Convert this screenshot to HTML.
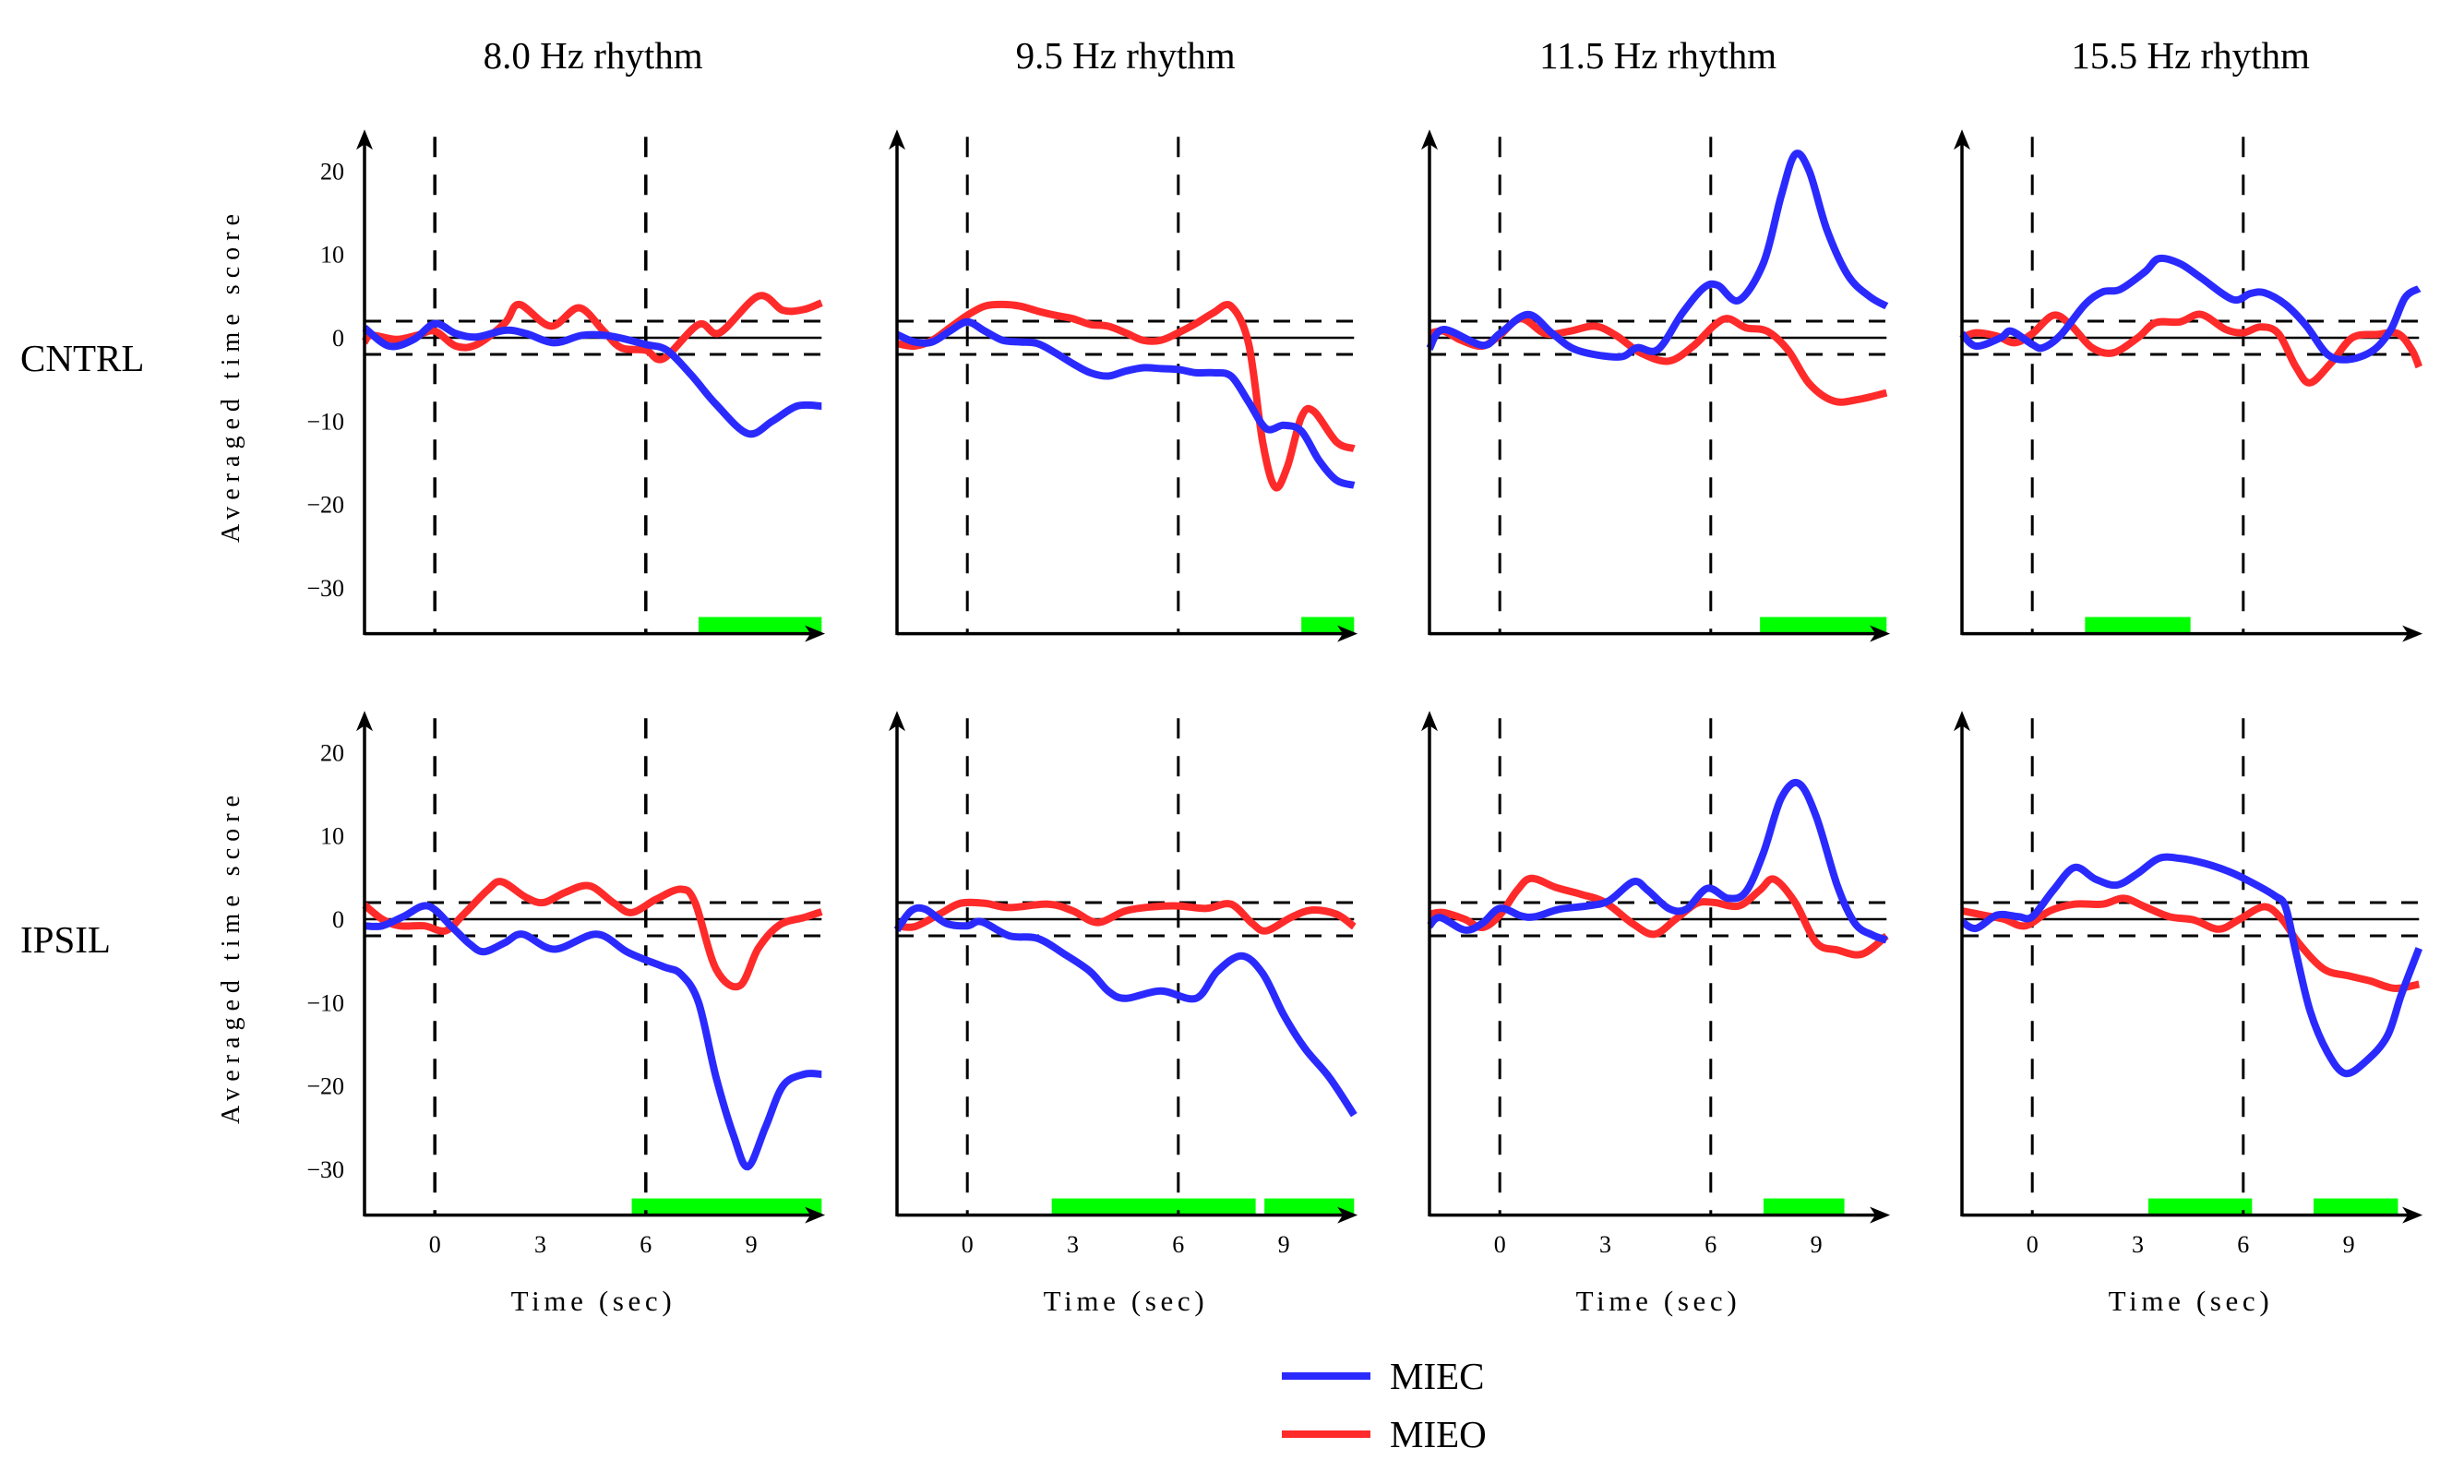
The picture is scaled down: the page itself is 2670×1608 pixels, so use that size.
<!DOCTYPE html>
<html><head><meta charset="utf-8"><style>
html,body{margin:0;padding:0;background:#fff;}
svg{display:block;}
text{font-family:"Liberation Serif",serif;fill:#000;}
</style></head><body>
<svg id="chart" width="2670" height="1608" viewBox="0 0 2670 1608" xmlns="http://www.w3.org/2000/svg"></svg>
<script>
const rhythms = ["8.0 Hz rhythm","9.5 Hz rhythm","11.5 Hz rhythm","15.5 Hz rhythm"];
const rowNames = ["CNTRL","IPSIL"];
const yTicks = [20,10,0,-10,-20,-30];
const yTickLabels = ["20","10","0","\u221210","\u221220","\u221230"];
const xTicks = [0,3,6,9];
const threshold = 2;
const eventTimes = [0,6];

// MIEC (blue) series, [time, score]
const miecC0 = [[-2,1.2],[-1.3,-1],[-0.6,-0.2],[0,1.7],[0.6,0.5],[1.2,0.1],[2,0.9],[2.6,0.5],[3.4,-0.6],[4.2,0.3],[5,0.2],[6,-0.8],[6.6,-1.5],[7.3,-4.5],[8,-8],[8.9,-11.5],[9.6,-10],[10.3,-8.2],[11,-8.2]];
const miecC1 = [[-2,0.4],[-1.5,-0.5],[-1,-0.5],[-0.5,0.8],[0,1.9],[0.5,0.8],[1,-0.3],[1.5,-0.5],[2,-0.7],[2.5,-1.8],[3,-3.1],[3.5,-4.2],[4,-4.6],[4.5,-4],[5,-3.6],[5.5,-3.7],[6,-3.8],[6.5,-4.2],[7,-4.2],[7.5,-4.6],[8,-7.7],[8.5,-10.9],[9,-10.5],[9.5,-11.2],[10,-14.7],[10.5,-17.1],[11,-17.7]];
const miecC2 = [[-2,-1.3],[-1.6,1],[-0.5,-0.9],[0,0.5],[0.8,2.8],[1.5,0.5],[2.2,-1.5],[3.4,-2.3],[3.9,-1.2],[4.5,-1.4],[5.2,3],[5.8,6],[6.2,6.3],[6.8,4.5],[7.5,9],[8,17],[8.4,22],[8.8,20],[9.3,13],[9.9,7.5],[10.5,5],[11,3.8]];
const miecC3 = [[-2,0.5],[-1.6,-1],[-0.9,0],[-0.6,0.8],[0,-0.8],[0.3,-1.2],[0.8,0.3],[1.5,4],[2,5.5],[2.5,5.8],[3.2,7.9],[3.6,9.5],[4.2,8.9],[4.8,7.2],[5.7,4.6],[6.2,5.3],[6.6,5.4],[7.2,4],[7.8,1.4],[8.4,-2],[9,-2.6],[9.7,-1.5],[10.2,1],[10.6,4.8],[11,5.9]];
const miecI0 = [[-2,-0.8],[-1.5,-0.8],[-0.9,0.3],[-0.2,1.6],[0.5,-1],[1,-3],[1.4,-3.9],[2,-2.8],[2.5,-1.8],[3.4,-3.6],[4.6,-1.8],[5.5,-4],[6.5,-5.7],[7,-6.6],[7.5,-10],[8,-19],[8.5,-26],[8.9,-29.7],[9.4,-25],[9.9,-20],[10.5,-18.6],[11,-18.6]];
const miecI1 = [[-2,-1.3],[-1.6,1],[-1.2,1.2],[-0.6,-0.5],[0,-0.8],[0.4,-0.3],[1.2,-2],[2,-2.3],[2.8,-4.3],[3.5,-6.3],[4,-8.6],[4.5,-9.5],[5.5,-8.6],[6.5,-9.5],[7.1,-6.3],[7.8,-4.4],[8.4,-6.5],[9,-11.5],[9.6,-15.5],[10.3,-19],[11,-23.5]];
const miecI2 = [[-2,-0.8],[-1.7,0.2],[-1,-1.3],[-0.5,-0.5],[0,1.3],[0.6,0.4],[1,0.3],[1.7,1.2],[2.5,1.6],[3.1,2.2],[3.8,4.5],[4.2,3.5],[4.8,1.3],[5.3,1.2],[5.9,3.7],[6.5,2.5],[7,3.3],[7.5,8],[8,14.5],[8.5,16.3],[9,12.3],[9.6,4],[10.1,-0.5],[10.6,-1.9],[11,-2.5]];
const miecI3 = [[-2,-0.3],[-1.6,-1.1],[-1,0.5],[-0.4,0.3],[0,0.3],[0.6,3.5],[1.2,6.2],[1.8,4.8],[2.4,4.1],[3,5.5],[3.6,7.3],[4.2,7.3],[4.9,6.7],[5.6,5.7],[6.2,4.5],[6.9,2.8],[7.2,1.5],[7.5,-4],[7.9,-11],[8.4,-16],[8.9,-18.5],[9.5,-17],[10.1,-14],[10.5,-9],[11,-3.5]];

// MIEO (red) series, [time, score]
const mieoC0 = [[-2,-0.5],[-1.8,0.3],[-1.1,-0.2],[-0.5,0.3],[0,0.8],[0.6,-1],[1.2,-0.8],[2,1.8],[2.4,4],[3.3,1.4],[4.1,3.6],[4.8,0.8],[5.3,-1.2],[6,-1.5],[6.5,-2.5],[7.5,1.6],[8.1,0.6],[9.2,5],[9.9,3.3],[10.5,3.4],[11,4.2]];
const mieoC1 = [[-2,-0.7],[-1.5,-1],[-1,-0.3],[-0.5,1.2],[0,2.7],[0.5,3.8],[1,4],[1.5,3.8],[2,3.2],[2.5,2.7],[3,2.3],[3.5,1.6],[4,1.4],[4.5,0.6],[5,-0.3],[5.5,-0.3],[6,0.6],[6.5,1.7],[7,3],[7.5,3.8],[8,-0.7],[8.4,-12.5],[8.75,-17.9],[9.1,-15.5],[9.5,-9.5],[9.85,-8.8],[10.5,-12.5],[11,-13.3]];
const mieoC2 = [[-2,0.5],[-1.6,0.8],[-1.1,-0.3],[-0.5,-1],[0,0.3],[0.6,2.3],[1.3,0.5],[2,0.8],[2.7,1.4],[3.3,0.3],[4,-1.8],[4.8,-2.8],[5.5,-1],[6.1,1.5],[6.5,2.3],[7,1.2],[7.6,0.8],[8.2,-1.5],[8.8,-5.5],[9.5,-7.6],[10.2,-7.4],[11,-6.6]];
const mieoC3 = [[-2,0],[-1.6,0.6],[-1,0.2],[-0.5,-0.6],[0,0.5],[0.6,2.7],[1.1,1.5],[1.7,-1.2],[2.3,-1.8],[3,0],[3.5,1.8],[4.2,1.9],[4.8,2.8],[5.5,1],[6,0.6],[6.5,1.3],[7,0.5],[7.5,-3.5],[7.9,-5.4],[8.5,-3],[9.1,0],[9.8,0.4],[10.4,0.5],[10.8,-1.5],[11,-3.5]];
const mieoI0 = [[-2,1.7],[-1.5,0],[-1,-0.8],[-0.3,-0.8],[0.3,-1.4],[0.8,0.5],[1.5,3.5],[1.9,4.5],[2.6,2.6],[3.1,2],[3.7,3.2],[4.4,4],[5.1,1.9],[5.6,0.8],[6.3,2.4],[7,3.6],[7.4,2],[8,-6],[8.67,-8],[9.2,-3.5],[9.8,-0.7],[10.5,0.2],[11,0.9]];
const mieoI1 = [[-2,-0.8],[-1.5,-0.9],[-0.8,0.6],[-0.2,1.9],[0.5,1.9],[1.2,1.4],[2.3,1.8],[3,1],[3.7,-0.4],[4.5,1],[5.3,1.5],[6,1.6],[6.8,1.3],[7.5,1.8],[8.1,-0.5],[8.5,-1.4],[9.2,0.2],[9.8,1.1],[10.5,0.6],[11,-0.9]];
const mieoI2 = [[-2,0.6],[-1.6,0.8],[-1,0],[-0.5,-1],[0,0.5],[0.5,3.5],[0.9,4.9],[1.6,3.8],[2.3,3],[3,2],[3.8,-0.6],[4.4,-1.8],[5,0],[5.6,1.9],[6.1,2],[6.8,1.6],[7.4,3.5],[7.8,4.8],[8.4,2],[9,-2.8],[9.6,-3.7],[10.3,-4.2],[11,-2]];
const mieoI3 = [[-2,1],[-1.4,0.5],[-0.8,0],[-0.2,-0.8],[0.5,1],[1.2,1.8],[2,1.8],[2.6,2.5],[3.2,1.5],[3.9,0.3],[4.6,-0.1],[5.3,-1.2],[5.9,0],[6.6,1.5],[7.1,0],[7.6,-3],[8.3,-6],[9,-6.8],[9.6,-7.4],[10.3,-8.3],[11,-7.8]];

// significance intervals [start, end] in seconds
const sigC0 = [[7.5,11]];
const sigC1 = [[9.5,11]];
const sigC2 = [[7.4,11]];
const sigC3 = [[1.5,4.5]];
const sigI0 = [[5.6,11]];
const sigI1 = [[2.4,8.2],[8.45,11]];
const sigI2 = [[7.5,9.8]];
const sigI3 = [[3.3,6.25],[8.0,10.4]];

const miec = [[miecC0,miecC1,miecC2,miecC3],[miecI0,miecI1,miecI2,miecI3]];
const mieo = [[mieoC0,mieoC1,mieoC2,mieoC3],[mieoI0,mieoI1,mieoI2,mieoI3]];
const sig = [[sigC0,sigC1,sigC2,sigC3],[sigI0,sigI1,sigI2,sigI3]];

const NS = "http://www.w3.org/2000/svg";
const svg = document.getElementById("chart");
function mk(tag, attrs, parent){
  const e = document.createElementNS(NS, tag);
  for (const k in attrs) e.setAttribute(k, attrs[k]);
  (parent||svg).appendChild(e);
  return e;
}
const COL0 = 395, COLSTEP = 577, PXS = 38.1, PXU = 9.03;
const ROWY0 = [366, 996];
const YMIN = -35.5, YTOP = 25;

function smoothPath(pts){
  let d = "M" + pts[0][0].toFixed(1) + "," + pts[0][1].toFixed(1);
  for (let i = 0; i < pts.length - 1; i++){
    const p0 = pts[Math.max(i-1,0)], p1 = pts[i], p2 = pts[i+1], p3 = pts[Math.min(i+2,pts.length-1)];
    const c1x = p1[0] + (p2[0]-p0[0])/6, c1y = p1[1] + (p2[1]-p0[1])/6;
    const c2x = p2[0] - (p3[0]-p1[0])/6, c2y = p2[1] - (p3[1]-p1[1])/6;
    d += " C" + c1x.toFixed(1) + "," + c1y.toFixed(1) + " " + c2x.toFixed(1) + "," + c2y.toFixed(1) + " " + p2[0].toFixed(1) + "," + p2[1].toFixed(1);
  }
  return d;
}

for (let r = 0; r < 2; r++){
  for (let c = 0; c < 4; c++){
    const ax = COL0 + COLSTEP*c;
    const x = t => ax + (t + 2)*PXS;
    const y = v => ROWY0[r] - v*PXU;
    const g = mk("g", {});
    
    
    const yb = y(YMIN);
    sig[r][c].forEach(s => {
      const b = mk("rect", {x: x(s[0]), y: yb-18, width: x(s[1])-x(s[0]), height: 18, fill: "#00ff00"}, g);
      
      
    });
    eventTimes.forEach(t => {
      const l = mk("line", {x1: x(t), x2: x(t), y1: y(YTOP)+8, y2: yb, stroke: "#000", "stroke-width": c===0?3.5:3, "stroke-dasharray": "22,19"}, g);
      
      
    });
    [threshold, -threshold].forEach(v => {
      const l = mk("line", {x1: ax, x2: x(11), y1: y(v), y2: y(v), stroke: "#000", "stroke-width": 3, "stroke-dasharray": "18,16"}, g);
      
      
    });
    const z = mk("line", {x1: ax, x2: x(11), y1: y(0), y2: y(0), stroke: "#000", "stroke-width": 2.5}, g);
    
    
    [[mieo[r][c], "#ff2a2a", "mieo-line"], [miec[r][c], "#2a2aff", "miec-line"]].forEach(s => {
      const pts = s[0].map(p => [x(p[0]), y(p[1])]);
      const p = mk("path", {d: smoothPath(pts), fill: "none", stroke: s[1], "stroke-width": 8, "stroke-linejoin": "round"}, g);
      
      
    });
    const xa = mk("line", {x1: ax, x2: x(11.1)-8, y1: yb, y2: yb, stroke: "#000", "stroke-width": 3.5}, g);
    
    
    const xe = x(11.1);
    const xh = mk("path", {d: `M${xe},${yb} L${xe-22},${yb-9} L${xe-16},${yb} L${xe-22},${yb+9} Z`, fill: "#000"}, g);
    
    
    const yt = y(YTOP);
    const ya = mk("line", {x1: ax, x2: ax, y1: yb+1.5, y2: yt+8, stroke: "#000", "stroke-width": 3.5}, g);
    
    
    const yh = mk("path", {d: `M${ax},${yt} L${ax-9},${yt+22} L${ax},${yt+16} L${ax+9},${yt+22} Z`, fill: "#000"}, g);
    
    
    if (c === 0){
      yTicks.forEach((v,i) => {
        const t = mk("text", {x: ax-22, y: y(v)+9, "font-size": 26, "text-anchor": "end"}, g);
        t.textContent = yTickLabels[i];
        
        
      });
      const yl = mk("text", {x: 0, y: 0, "font-size": 28, "text-anchor": "middle", textLength: 356, lengthAdjust: "spacing", transform: `translate(259,${ROWY0[r]+44}) rotate(-90)`}, g);
      yl.textContent = "Averaged time score";
      
      
    }
    if (r === 1){
      xTicks.forEach(v => {
        const t = mk("text", {x: x(v), y: 1357, "font-size": 26, "text-anchor": "middle"}, g);
        t.textContent = String(v);
        
        
      });
      const xl = mk("text", {x: x(4.5)-2, y: 1420, "font-size": 31, "text-anchor": "middle", textLength: 174, lengthAdjust: "spacing"}, g);
      xl.textContent = "Time (sec)";
      
      
    }
    if (r === 0){
      const tt = mk("text", {x: x(4.5), y: 74, "font-size": 41, "text-anchor": "middle"}, g);
      tt.textContent = rhythms[c];
      
      
    }
  }
  const rl = mk("text", {x: 22, y: ROWY0[r]+36, "font-size": 41}, svg);
  rl.textContent = rowNames[r];
  
  
}
const legendItems = [["MIEC","#2a2aff"],["MIEO","#ff2a2a"]];
legendItems.forEach((it,i) => {
  const yy = 1491 + i*63;
  const g = mk("g", {});
  
  
  mk("line", {x1: 1389, x2: 1485, y1: yy, y2: yy, stroke: it[1], "stroke-width": 8}, g);
  const t = mk("text", {x: 1506, y: yy+14, "font-size": 41}, g);
  t.textContent = it[0];
});
</script>
</body></html>
